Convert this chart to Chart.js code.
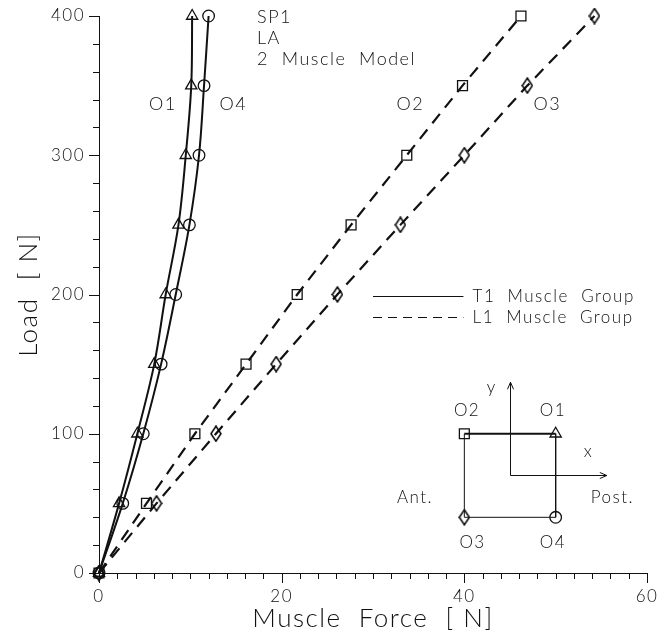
<!DOCTYPE html>
<html><head><meta charset="utf-8">
<script src="https://cdn.jsdelivr.net/npm/chart.js@4/dist/chart.umd.min.js"></script>
<style>html,body{margin:0;padding:0;background:#fff}</style>
</head><body>
<canvas id="c" width="672" height="637"></canvas>
<script>
// ---------- data ----------
const loads   = [0, 50, 100, 150, 200, 250, 300, 350, 400];
const forceO1 = [0, 2.2, 4.2, 6.05, 7.3, 8.7, 9.5, 10.1, 10.2];   // T1, triangle
const forceO4 = [0, 2.6, 4.85, 6.8, 8.4, 9.9, 10.95, 11.5, 12.0]; // T1, circle
const forceO2 = [0, 5.2, 10.5, 16.1, 21.7, 27.6, 33.7, 39.8, 46.2]; // L1, square
const forceO3 = [0, 6.3, 12.8, 19.4, 26.1, 33.0, 40.0, 46.9, 54.25]; // L1, diamond
const xTickLabels = [0, 20, 40, 60];
const yTickLabels = [0, 100, 200, 300, 400];
const seriesNames = ['T1  Muscle  Group', 'L1  Muscle  Group'];
const infoLines = ['SP1', 'LA', '2  Muscle  Model'];
const curveNames = ['O1', 'O4', 'O2', 'O3'];
// inset diagram (muscle layout sketch), in chart units
const insetCornersX = [40, 50, 40, 50];
const insetCornersY = [100, 100, 40, 40];
const insetNames = ['O2', 'O1', 'O3', 'O4'];

// ---------- styles / layout ----------
const INK = '#111';
const FONT = 'Lato, "Liberation Sans", Arial, sans-serif';
const WEIGHT = '300';
const annot = {
  curveNamePos: [[7.0, 337], [14.7, 337], [34.1, 337], [49.1, 337]],
  infoPos: [[17.3, 399], [17.3, 384], [17.3, 369]],
  legendLine: [30.0, 39.9], legendText: 40.9, legendY: [198.6, 184.2],
  insetNamePos: [[40.3, 117], [49.7, 117], [40.9, 21.6], [49.7, 21.6]],
  ant: [34.6, 54], post: [56.2, 54], xl: [53.6, 87], yl: [43.0, 133],
  axOrigin: [45, 70.5], axXEnd: 55.6, axYEnd: 137
};

function diamond(w, h) {
  const c = document.createElement('canvas');
  c.width = w + 2; c.height = h + 2;
  const g = c.getContext('2d');
  g.strokeStyle = '#000'; g.lineWidth = 1.5;
  g.beginPath();
  g.moveTo(c.width / 2, 1); g.lineTo(c.width - 1, c.height / 2);
  g.lineTo(c.width / 2, c.height - 1); g.lineTo(1, c.height / 2); g.closePath();
  g.stroke();
  return c;
}
const dia = diamond(10, 15);

const pts = arr => arr.map((v, i) => ({x: v, y: loads[i]}));
const common = {showLine: true, clip: false, borderColor: INK, pointBorderColor: INK,
  pointBackgroundColor: 'rgba(0,0,0,0)', pointBorderWidth: 1.3, borderWidth: 2};

const datasets = [
  Object.assign({}, common, {label: seriesNames[0], data: pts(forceO1), pointStyle: 'triangle', pointRadius: 6.5, tension: 0.35}),
  Object.assign({}, common, {label: seriesNames[0], data: pts(forceO4), pointStyle: 'circle', pointRadius: 5.8, tension: 0.35}),
  Object.assign({}, common, {label: seriesNames[1], data: pts(forceO2), pointStyle: 'rect', pointRadius: 7, borderDash: [12, 8], borderWidth: 2.2}),
  Object.assign({}, common, {label: seriesNames[1], data: pts(forceO3), pointStyle: dia, borderDash: [12, 8], borderWidth: 2.2}),
  {label: 'inset-top', data: [{x: insetCornersX[0], y: insetCornersY[0]}, {x: insetCornersX[1], y: insetCornersY[1]}],
   showLine: true, borderColor: INK, borderWidth: 2, pointRadius: 0},
  {label: 'inset-sides', data: [{x: insetCornersX[1], y: insetCornersY[1]}, {x: insetCornersX[3], y: insetCornersY[3]},
     {x: insetCornersX[2], y: insetCornersY[2]}, {x: insetCornersX[0], y: insetCornersY[0]}],
   showLine: true, borderColor: INK, borderWidth: 1, pointRadius: 0},
  {label: 'inset-marks', data: insetCornersX.map((x, i) => ({x, y: insetCornersY[i]})), showLine: false,
   pointStyle: ['rect', 'triangle', dia, 'circle'], pointRadius: [7, 6.5, 6, 5.8],
   pointBorderColor: INK, pointBackgroundColor: 'rgba(0,0,0,0)', pointBorderWidth: 1.3}
];

const spacing = {
  id: 'spacing',
  beforeUpdate(chart) { chart.ctx.letterSpacing = '1.5px'; },
  beforeDraw(chart) { chart.ctx.letterSpacing = '1.5px'; }
};

const extras = {
  id: 'extras',
  afterDraw(chart) {
    const ctx = chart.ctx, xs = chart.scales.x, ys = chart.scales.y;
    const X = v => xs.getPixelForValue(v), Y = v => ys.getPixelForValue(v);
    ctx.save();
    ctx.letterSpacing = '1.5px';
    ctx.strokeStyle = INK; ctx.fillStyle = INK;
    ctx.lineWidth = 1;
    const x0 = chart.chartArea.left, y0 = chart.chartArea.bottom;
    for (let v = xs.min; v <= xs.max + 1e-9; v += 2) {
      const p = Math.round(X(v)) + 0.5, major = xTickLabels.includes(v);
      ctx.beginPath(); ctx.moveTo(p, y0); ctx.lineTo(p, y0 + (major ? 10 : 6)); ctx.stroke();
    }
    for (let v = ys.min; v <= ys.max + 1e-9; v += 20) {
      const p = Math.round(Y(v)) + 0.5, major = yTickLabels.includes(v);
      ctx.beginPath(); ctx.moveTo(x0, p); ctx.lineTo(x0 - (major ? 10 : 6), p); ctx.stroke();
    }
    ctx.font = `${WEIGHT} 18px ${FONT}`;
    ctx.textAlign = 'center'; ctx.textBaseline = 'middle';
    curveNames.forEach((t, i) => ctx.fillText(t, X(annot.curveNamePos[i][0]), Y(annot.curveNamePos[i][1])));
    ctx.textAlign = 'left';
    infoLines.forEach((t, i) => ctx.fillText(t, X(annot.infoPos[i][0]), Y(annot.infoPos[i][1])));
    ctx.font = `${WEIGHT} 17px ${FONT}`;
    seriesNames.forEach((t, i) => {
      const y = Math.round(Y(annot.legendY[i])) + 0.5;
      ctx.lineWidth = 1.2;
      ctx.setLineDash(i === 0 ? [] : [9, 6]);
      ctx.beginPath(); ctx.moveTo(X(annot.legendLine[0]), y); ctx.lineTo(X(annot.legendLine[1]), y); ctx.stroke();
      ctx.setLineDash([]);
      ctx.fillText(t, X(annot.legendText), y);
    });
    ctx.lineWidth = 1;
    const ox = Math.round(X(annot.axOrigin[0])) + 0.5, oy = Math.round(Y(annot.axOrigin[1])) + 0.5;
    const yt = Y(annot.axYEnd), xt = X(annot.axXEnd);
    ctx.beginPath(); ctx.moveTo(ox, yt); ctx.lineTo(ox, oy); ctx.lineTo(xt, oy); ctx.stroke();
    ctx.beginPath(); ctx.moveTo(ox - 3, yt + 7); ctx.lineTo(ox, yt); ctx.lineTo(ox + 3, yt + 7); ctx.stroke();
    ctx.beginPath(); ctx.moveTo(xt - 7, oy - 3); ctx.lineTo(xt, oy); ctx.lineTo(xt - 7, oy + 3); ctx.stroke();
    ctx.textAlign = 'center';
    insetNames.forEach((t, i) => ctx.fillText(t, X(annot.insetNamePos[i][0]), Y(annot.insetNamePos[i][1])));
    ctx.fillText('Ant.', X(annot.ant[0]), Y(annot.ant[1]));
    ctx.fillText('Post.', X(annot.post[0]), Y(annot.post[1]));
    ctx.fillText('x', X(annot.xl[0]), Y(annot.xl[1]));
    ctx.fillText('y', X(annot.yl[0]), Y(annot.yl[1]));
    ctx.restore();
  }
};

new Chart(document.getElementById('c').getContext('2d'), {
  type: 'scatter',
  data: {datasets},
  plugins: [spacing, extras],
  options: {
    responsive: false, animation: false, devicePixelRatio: 1,
    layout: {padding: {left: 0, right: 25, top: 16, bottom: 0}},
    plugins: {legend: {display: false}, tooltip: {enabled: false}},
    scales: {
      x: {
        type: 'linear', min: 0, max: 60,
        afterBuildTicks: s => { s.ticks = xTickLabels.map(v => ({value: v})); },
        afterFit: s => { s.height = 64; },
        ticks: {color: INK, padding: 13, font: {family: FONT, size: 17, weight: WEIGHT}},
        grid: {display: false, drawTicks: false},
        border: {display: true, color: INK, width: 1},
        title: {display: true, text: 'Muscle  Force  [ N]', color: INK,
          font: {family: FONT, size: 26, weight: WEIGHT}, padding: {top: 0, bottom: 3}}
      },
      y: {
        type: 'linear', min: 0, max: 400,
        afterBuildTicks: s => { s.ticks = yTickLabels.map(v => ({value: v})); },
        afterFit: s => { s.width = 99; s.paddingTop = 0; s.paddingBottom = 0; },
        ticks: {color: INK, padding: 14, font: {family: FONT, size: 17, weight: WEIGHT}},
        grid: {display: false, drawTicks: false},
        border: {display: true, color: INK, width: 1},
        title: {display: true, text: 'Load  [ N]', color: INK,
          font: {family: FONT, size: 26, weight: WEIGHT}, padding: {top: 13, bottom: 0}}
      }
    }
  }
});
</script>
</body></html>
